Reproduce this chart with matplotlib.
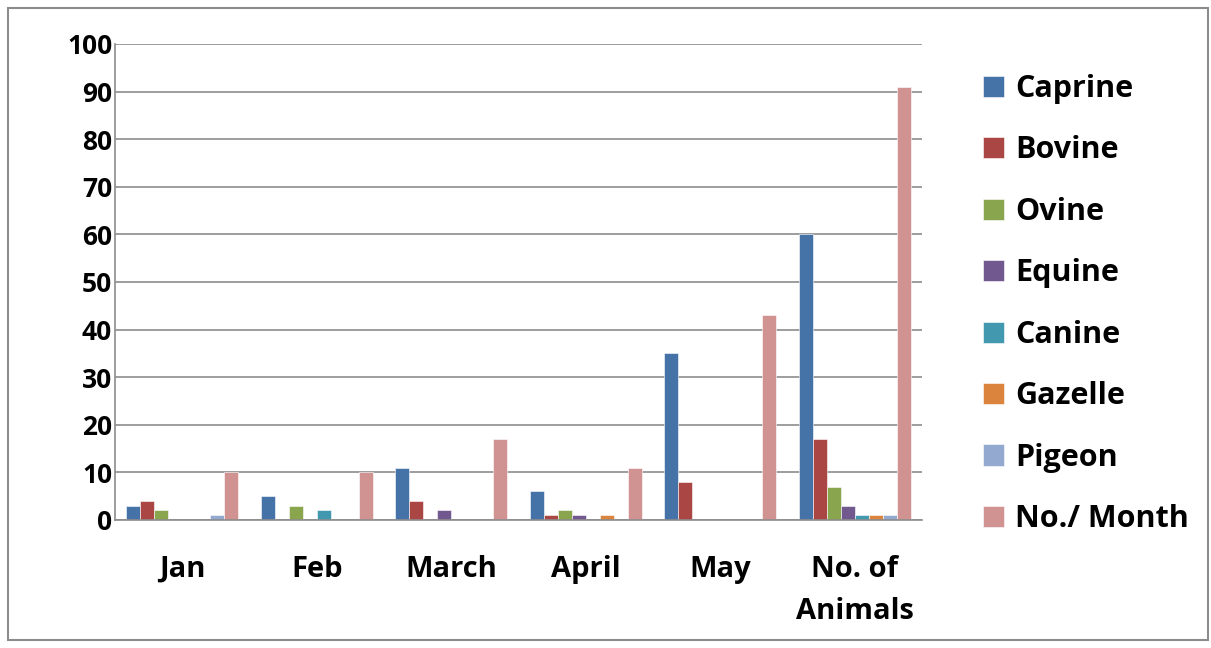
import numpy as np
import matplotlib.pyplot as plt
from matplotlib.patches import Rectangle

plt.rcParams['font.family'] = ['Open Sans', 'DejaVu Sans']
plt.rcParams['font.weight'] = 'bold'

categories = ['Jan', 'Feb', 'March', 'April', 'May', 'No. of\nAnimals']
series = ['Caprine', 'Bovine', 'Ovine', 'Equine', 'Canine', 'Gazelle', 'Pigeon', 'No./ Month']
caprine = [3, 5, 11, 6, 35, 60]
bovine = [4, 0, 4, 1, 8, 17]
ovine = [2, 3, 0, 2, 0, 7]
equine = [0, 0, 2, 1, 0, 3]
canine = [0, 2, 0, 0, 0, 1]
gazelle = [0, 0, 0, 1, 0, 1]
pigeon = [1, 0, 0, 0, 0, 1]
per_month = [10, 10, 17, 11, 43, 91]
colors = ['#4572A7', '#AA4643', '#89A54E', '#71588F', '#4198AF', '#DB843D', '#93A9CF', '#D19392']

values = [caprine, bovine, ovine, equine, canine, gazelle, pigeon, per_month]

fig = plt.figure(figsize=(12.11, 6.48), dpi=100)
# outer frame of the chart
fig.patches.append(Rectangle((8 / 1211, 8 / 648), 1200 / 1211, 632 / 648, transform=fig.transFigure,
                             fill=False, edgecolor='#8c8c8c', lw=1.5))

ax = fig.add_axes([115 / 1211, 128 / 648, 807 / 1211, 476 / 648])
x = np.arange(len(categories))
w = 0.104
for i, (name, vals) in enumerate(zip(series, values)):
    ax.bar(x + (i - 3.5) * w, vals, w, color=colors[i], label=name,
           edgecolor='white', linewidth=0.4)

ax.set_xlim(-0.5, len(categories) - 0.5)
ax.set_ylim(0, 100)
ax.set_yticks(np.arange(0, 101, 10))
ax.set_xticks(x)
ax.set_xticklabels(categories, fontsize=21, fontweight='bold', linespacing=1.6)
ax.tick_params(axis='y', labelsize=19, length=0, pad=2)
ax.tick_params(axis='x', length=0, pad=25)
ax.yaxis.grid(True, color='#8c8c8c', lw=1.2)
ax.set_axisbelow(True)
for s in ['top', 'right']:
    ax.spines[s].set_visible(False)
for s in ['left', 'bottom']:
    ax.spines[s].set_color('#8c8c8c')
    ax.spines[s].set_linewidth(1.2)

fig.legend(loc='upper left', bbox_to_anchor=(983 / 1211, 1 - 74 / 648), frameon=False,
           prop={'size': 22, 'weight': 'bold'}, handlelength=0.7, handleheight=0.7,
           handletextpad=0.35, labelspacing=1.03, borderaxespad=0, borderpad=0)

fig.savefig('out.png', dpi=100)
